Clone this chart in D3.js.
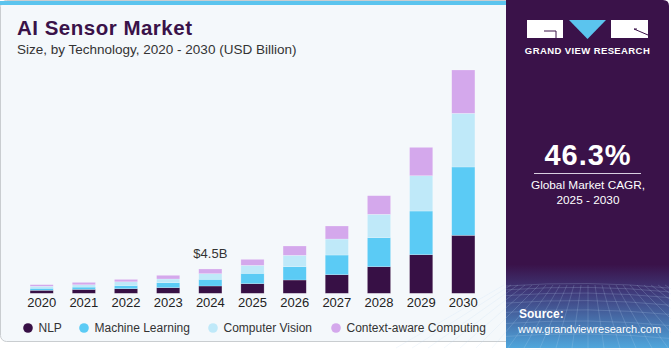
<!DOCTYPE html>
<html>
<head>
<meta charset="utf-8">
<script src="https://cdn.jsdelivr.net/npm/d3@7"></script>
<style>
  body { margin: 0; background: #fff; }
  svg { display: block; font-family: "Liberation Sans", Arial, sans-serif; }
</style>
</head>
<body>
<div id="chart"></div>
<script>
// AI sensor market, USD billion, by technology
const years = ["2020", "2021", "2022", "2023", "2024", "2025", "2026", "2027", "2028", "2029", "2030"];
const series = ["NLP", "Machine Learning", "Computer Vision", "Context-aware Computing"];
const nlp = [0.56, 0.72, 0.85, 1.04, 1.35, 1.78, 2.46, 3.44, 4.92, 7.14, 10.73];
const ml = [0.37, 0.43, 0.58, 0.93, 1.24, 1.91, 2.46, 3.64, 5.37, 8.08, 12.64];
const cv = [0.37, 0.43, 0.70, 0.68, 1.04, 1.48, 2.11, 2.96, 4.33, 6.53, 9.93];
const cam = [0.30, 0.44, 0.44, 0.68, 0.87, 1.11, 1.72, 2.41, 3.44, 5.25, 8.01];
const colors = ["#371045", "#5bcbf5", "#bfe9f9", "#d4a8ec"];

const width = 671;
const height = 350;

const svg = d3.select("#chart")
    .append("svg")
    .attr("width", width)
    .attr("height", height);

const defs = svg.append("defs");
const grad = defs.append("linearGradient")
    .attr("id", "panelGrad")
    .attr("x1", 0).attr("y1", 0).attr("x2", 0).attr("y2", 1);
grad.append("stop").attr("offset", "0%").attr("stop-color", "#3a1249");
grad.append("stop").attr("offset", "76%").attr("stop-color", "#3a1249");
grad.append("stop").attr("offset", "84%").attr("stop-color", "#3f3a7a");
grad.append("stop").attr("offset", "100%").attr("stop-color", "#4fa6dc");

// main card
svg.append("rect")
    .attr("x", 0.5).attr("y", 0.5)
    .attr("width", 530).attr("height", 341)
    .attr("rx", 6)
    .attr("fill", "#f4f8fb")
    .attr("stroke", "#c9cdd0");

svg.append("rect")
    .attr("x", 0).attr("y", 1)
    .attr("width", 506).attr("height", 4)
    .attr("fill", "#5bc4ee");

// right panel
svg.append("path")
    .attr("d", "M506,0 H663 Q669,0 669,6 V348 H506 Z")
    .attr("fill", "url(#panelGrad)");

// decorative grid in panel bottom
const gridG = svg.append("g")
    .attr("stroke", "rgba(190,220,245,0.28)")
    .attr("stroke-width", 0.7)
    .attr("fill", "none");
for (let i = 0; i < 9; i++) {
    const yy = 286 + i * i * 0.9 + i * 3;
    gridG.append("path").attr("d", `M506,${yy} Q588,${yy - 6} 669,${yy + 2}`);
}
for (let i = -12; i <= 12; i++) {
    const xTop = 588 + i * 7;
    const xBot = 588 + i * 16;
    gridG.append("line").attr("x1", xTop).attr("y1", 285).attr("x2", xBot).attr("y2", 348);
}

// title
svg.append("text")
    .attr("x", 17).attr("y", 35)
    .attr("fill", "#3a1249")
    .style("font-size", "20.5px")
    .style("font-weight", "bold")
    .style("letter-spacing", "0.5px")
    .text("AI Sensor Market");

svg.append("text")
    .attr("x", 17).attr("y", 54)
    .attr("fill", "#333")
    .style("font-size", "13.5px")
    .text("Size, by Technology, 2020 - 2030 (USD Billion)");

// stacked bars
const rows = years.map((year, i) => ({
    year: year,
    "NLP": nlp[i],
    "Machine Learning": ml[i],
    "Computer Vision": cv[i],
    "Context-aware Computing": cam[i]
}));

const stacked = d3.stack().keys(series)(rows);

const x = d3.scaleBand()
    .domain(years)
    .range([9, 496])
    .paddingInner(0.45)
    .paddingOuter(0.5);

const baseY = 293.3;
const y = d3.scaleLinear()
    .domain([0, 41.31])
    .range([baseY, 70]);

svg.append("g")
    .selectAll("g")
    .data(stacked)
    .join("g")
    .attr("fill", (d, i) => colors[i])
    .selectAll("rect")
    .data(d => d)
    .join("rect")
    .attr("x", d => x(d.data.year))
    .attr("y", d => y(d[1]))
    .attr("width", x.bandwidth())
    .attr("height", d => y(d[0]) - y(d[1]))
    .attr("stroke", "rgba(255,255,255,0.35)")
    .attr("stroke-width", 0.6);

// x axis labels
const xAxis = svg.append("g")
    .attr("transform", `translate(0,${baseY})`)
    .call(d3.axisBottom(x).tickSize(0).tickPadding(4));
xAxis.select(".domain").remove();
xAxis.selectAll("text")
    .attr("fill", "#222")
    .style("font-size", "13px")
    .style("font-family", "\"Liberation Sans\", Arial, sans-serif");

// annotation for 2024
const i2024 = years.indexOf("2024");
svg.append("text")
    .attr("x", x("2024") + x.bandwidth() / 2)
    .attr("y", y(stacked[3][i2024][1]) - 11)
    .attr("text-anchor", "middle")
    .attr("fill", "#333")
    .style("font-size", "13px")
    .text("$4.5B");

// legend
const legendX = [28, 84, 213, 336];
const legend = svg.append("g");
series.forEach((s, i) => {
    legend.append("circle")
        .attr("cx", legendX[i]).attr("cy", 328)
        .attr("r", 4.8)
        .attr("fill", colors[i]);
    legend.append("text")
        .attr("x", legendX[i] + 10.5).attr("y", 328)
        .attr("dy", "0.35em")
        .attr("fill", "#333")
        .style("font-size", "12px")
        .text(s);
});

// logo
const logo = svg.append("g");
logo.append("rect").attr("x", 527).attr("y", 20).attr("width", 36).attr("height", 18).attr("fill", "#fff");
logo.append("path").attr("d", "M544,31 H556 V38").attr("stroke", "#3a1249").attr("stroke-width", 1).attr("fill", "none");
logo.append("path").attr("d", "M569,20 H606 L587.5,39 Z").attr("fill", "#5bc4ee");
logo.append("rect").attr("x", 611).attr("y", 20).attr("width", 37).attr("height", 18).attr("fill", "#fff");
logo.append("path").attr("d", "M634,29 L648,35").attr("stroke", "#3a1249").attr("stroke-width", 1);
logo.append("path").attr("d", "M634,29 H637").attr("stroke", "#3a1249").attr("stroke-width", 1);
logo.append("text")
    .attr("x", 587.5).attr("y", 54)
    .attr("text-anchor", "middle")
    .attr("fill", "#fff")
    .style("font-size", "9.5px")
    .style("font-weight", "bold")
    .style("letter-spacing", "0.4px")
    .text("GRAND VIEW RESEARCH");

// CAGR
svg.append("text")
    .attr("x", 588).attr("y", 165)
    .attr("text-anchor", "middle")
    .attr("fill", "#fff")
    .style("font-size", "29px")
    .style("font-weight", "bold")
    .style("letter-spacing", "1px")
    .text("46.3%");
svg.append("line")
    .attr("x1", 534).attr("x2", 641)
    .attr("y1", 173.5).attr("y2", 173.5)
    .attr("stroke", "#d8cfe0")
    .attr("stroke-width", 1);
svg.append("text")
    .attr("x", 588).attr("y", 189)
    .attr("text-anchor", "middle")
    .attr("fill", "#fff")
    .style("font-size", "11.8px")
    .text("Global Market CAGR,");
svg.append("text")
    .attr("x", 588).attr("y", 204)
    .attr("text-anchor", "middle")
    .attr("fill", "#fff")
    .style("font-size", "11.8px")
    .text("2025 - 2030");

// source
svg.append("text")
    .attr("x", 519).attr("y", 318)
    .attr("fill", "#fff")
    .style("font-size", "12px")
    .style("font-weight", "bold")
    .text("Source:");
svg.append("text")
    .attr("x", 518).attr("y", 332.5)
    .attr("fill", "#fff")
    .style("font-size", "11px")
    .text("www.grandviewresearch.com");
</script>
</body>
</html>
